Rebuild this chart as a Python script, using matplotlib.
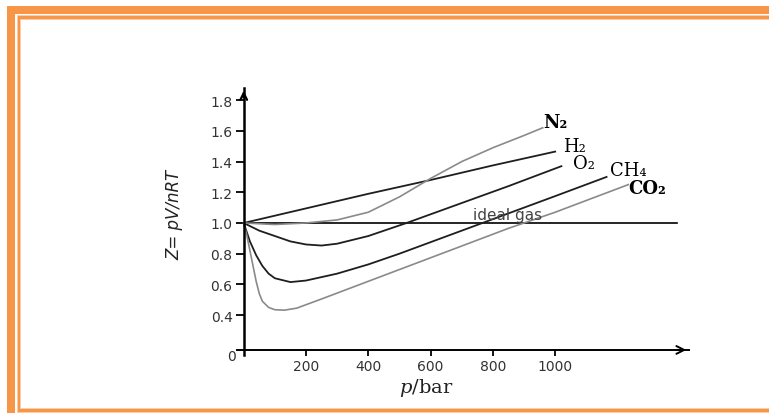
import matplotlib
matplotlib.use("Agg")
import matplotlib.pyplot as plt
from matplotlib.patches import Rectangle

plt.rcParams['mathtext.fontset'] = 'dejavuserif'

# compressibility factor Z = pV/nRT against pressure (bar)
p_n2 = [0, 100, 200, 300, 400, 500, 600, 700, 800, 900, 960]
z_n2 = [1.0, 0.99, 1.0, 1.02, 1.07, 1.17, 1.29, 1.40, 1.49, 1.57, 1.62]

p_h2 = [0, 200, 400, 600, 800, 1000]
z_h2 = [1.0, 1.095, 1.19, 1.28, 1.375, 1.465]

p_o2 = [0, 50, 100, 150, 200, 250, 300, 400, 523, 700, 850, 1020]
z_o2 = [1.0, 0.95, 0.915, 0.88, 0.86, 0.853, 0.865, 0.915, 1.0, 1.13, 1.24, 1.37]

p_ch4 = [0, 20, 40, 60, 80, 100, 150, 200, 300, 400, 500, 600, 700, 800, 900, 1000, 1165]
z_ch4 = [1.0, 0.88, 0.79, 0.72, 0.67, 0.64, 0.615, 0.625, 0.67, 0.73, 0.80, 0.875,
         0.95, 1.025, 1.10, 1.175, 1.30]

p_co2 = [0, 10, 20, 30, 40, 50, 60, 80, 100, 130, 170, 250, 400, 550, 700, 850, 1000, 1235]
z_co2 = [1.0, 0.92, 0.82, 0.72, 0.62, 0.54, 0.49, 0.45, 0.435, 0.432, 0.445, 0.505,
         0.62, 0.735, 0.85, 0.965, 1.07, 1.25]

p_ideal = [0, 1391]
z_ideal = [1.0, 1.0]

y_ticks = [0.4, 0.6, 0.8, 1.0, 1.2, 1.4, 1.6, 1.8]
x_ticks = [200, 400, 600, 800, 1000]

W, H = 769, 414
fig = plt.figure(figsize=(W / 100, H / 100), dpi=100)


def px(x, y):
    return x / W, 1 - y / H


# orange page frame
orange = '#F79646'
light = '#FBCCA8'
def band(x0, y0, x1, y1, color):
    fig.patches.append(Rectangle((x0 / W, 1 - y1 / H), (x1 - x0) / W, (y1 - y0) / H,
                                 transform=fig.transFigure, color=color, lw=0))

band(7, 7, W, 15, orange)
band(7, 7, 15, H, orange)
band(17, 16, W, 21, light)
band(17, 16, 21, 414, light)
band(17, 409, W, 414, light)
band(18, 17, W, 20, orange)
band(18, 17, 20, 413, orange)
band(18, 410, W, 413, orange)

ax = fig.add_axes([0.3088, 0.1401, 0.5873, 0.6452])
ax.set_xlim(-20, 1430)
ax.set_ylim(0.14, 1.88)

dark = '#1e1e1e'
grey = '#8a8a8a'
ax.plot(p_ideal, z_ideal, color='black', lw=1.2)
ax.plot(p_h2, z_h2, color=dark, lw=1.3)
ax.plot(p_o2, z_o2, color=dark, lw=1.3)
ax.plot(p_ch4, z_ch4, color=dark, lw=1.3)
ax.plot(p_n2, z_n2, color=grey, lw=1.2)
ax.plot(p_co2, z_co2, color=grey, lw=1.2)

for s in ['top', 'right']:
    ax.spines[s].set_visible(False)
ax.spines['left'].set_position(('data', 0))
ax.spines['bottom'].set_position(('data', 0.173))
ax.spines['left'].set_linewidth(1.8)
ax.spines['bottom'].set_linewidth(1.4)

ax.set_yticks(y_ticks)
ax.set_yticklabels(['%.1f' % v for v in y_ticks])
ax.set_xticks(x_ticks)
ax.set_xticklabels([str(v) for v in x_ticks])
ax.tick_params(axis='y', direction='out', length=6, width=1.3, pad=2,
               labelsize=10, labelcolor='#333333')
ax.tick_params(axis='x', direction='out', length=4.5, width=1.3, pad=2,
               labelsize=10, labelcolor='#333333')

# arrow heads
ax.annotate('', xy=(1430, 0.173), xytext=(1380, 0.173),
            arrowprops=dict(arrowstyle='->', lw=1.4, color='black', mutation_scale=14))
ax.annotate('', xy=(0, 1.88), xytext=(0, 1.8),
            arrowprops=dict(arrowstyle='->', lw=1.6, color='black', mutation_scale=12))

ax.text(848, 1.005, 'ideal gas', ha='center', va='bottom', fontsize=11, color='#444444')

serif = 'DejaVu Serif'
ax.text(961, 1.66, 'N₂', family=serif, fontweight='bold', fontsize=13, va='center')
ax.text(1025, 1.50, 'H₂', family=serif, fontsize=13, va='center')
ax.text(1057, 1.39, 'O₂', family=serif, fontsize=13, va='center')
ax.text(1176, 1.345, 'CH₄', family=serif, fontsize=13, va='center')
ax.text(1234, 1.228, 'CO₂', family=serif, fontweight='bold', fontsize=13, va='center')

fig.text(*px(232, 357), '0', ha='center', va='center', fontsize=10, color='#333333')
fig.text(*px(174, 215), 'Z= pV/nRT', rotation=90, ha='center', va='center',
         fontsize=12, style='italic', color='#222222')
fig.text(*px(426, 388), '$p$/bar', ha='center', va='center', fontsize=14,
         family=serif, color='#222222')

fig.savefig('out.png', dpi=100)
